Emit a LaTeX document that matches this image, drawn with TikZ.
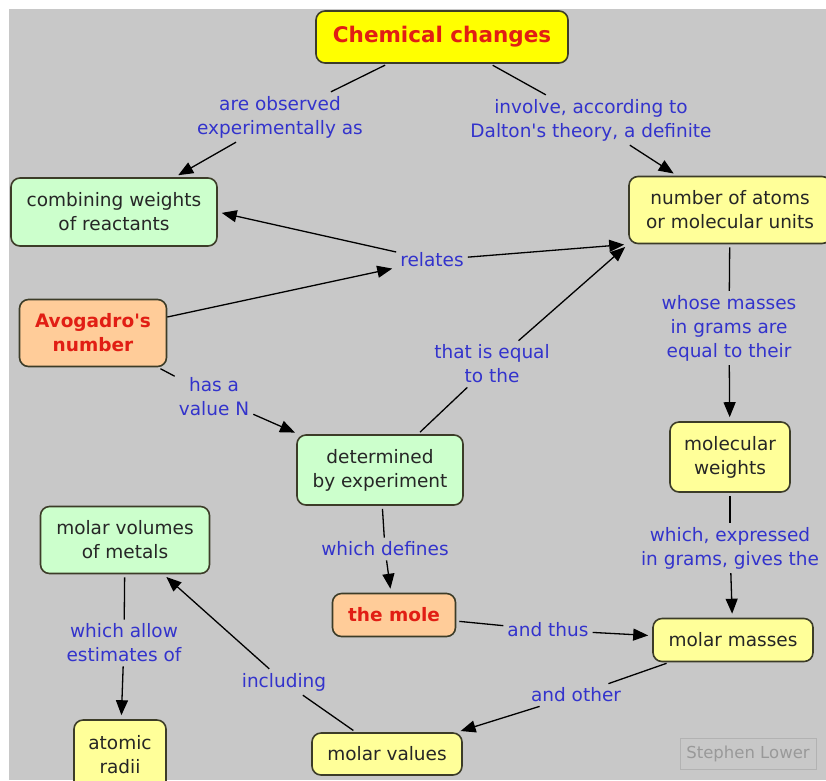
\documentclass[tikz,border=0pt]{standalone}
\usepackage{fontspec}
\setmainfont{DejaVu Sans}
\usepackage{tikz}
\usetikzlibrary{arrows.meta}

\definecolor{mapgray}{RGB}{200,200,200}
\definecolor{linkblue}{RGB}{51,51,204}
\definecolor{keyred}{RGB}{225,30,20}
\definecolor{chemyellow}{RGB}{255,255,0}
\definecolor{paleyellow}{RGB}{255,255,153}
\definecolor{palegreen}{RGB}{204,255,204}
\definecolor{paleorange}{RGB}{255,204,153}
\definecolor{boxline}{RGB}{60,60,40}

\begin{document}
\begin{tikzpicture}[x=1pt, y=-1pt,
        box/.style={draw=boxline, line width=1.6pt, rounded corners=9pt, align=center, inner sep=0pt,
            text=black!85, font=\fontsize{18.5}{24}\selectfont},
        keybox/.style={box, text=keyred, font=\fontsize{18.5}{24}\selectfont\bfseries},
        lbl/.style={align=center, inner sep=4pt, text=linkblue, font=\fontsize{18.5}{24}\selectfont},
        link/.style={line width=1.3pt, shorten <=3pt},
        arrow/.style={-{Triangle[length=15pt, width=12pt]}, line width=1.3pt, shorten >=4pt}
    ]
\useasboundingbox (0,0) rectangle (826,780);
        \clip (0,0) rectangle (826,780);
        \fill[white] (0,0) rectangle (826,780);
        \fill[mapgray] (9,9) rectangle (826,780);

        \node[keybox, fill=chemyellow, minimum width=252, minimum height=52, font=\fontsize{21.5}{24}\selectfont\bfseries] (chem) at (442,37) {Chemical changes};
        \node[box, fill=palegreen, minimum width=206, minimum height=68] (combining) at (114,212) {combining weights\\of reactants};
        \node[box, fill=paleyellow, minimum width=202, minimum height=67] (atoms) at (730,210) {number of atoms\\or molecular units};
        \node[keybox, fill=paleorange, minimum width=147, minimum height=67] (avogadro) at (93,333) {Avogadro\textquotesingle s\\number};
        \node[box, fill=palegreen, minimum width=166, minimum height=70] (determined) at (380,470) {determined\\by experiment};
        \node[box, fill=paleyellow, minimum width=120, minimum height=70] (molweights) at (730,457) {molecular\\weights};
        \node[box, fill=palegreen, minimum width=169, minimum height=67] (volumes) at (125,540) {molar volumes\\of metals};
        \node[keybox, fill=paleorange, minimum width=123, minimum height=43] (mole) at (394,615) {the mole};
        \node[box, fill=paleyellow, minimum width=160, minimum height=43] (masses) at (733,640) {molar masses};
        \node[box, fill=paleyellow, minimum width=92, minimum height=70] (radii) at (120,755) {atomic\\radii};
        \node[box, fill=paleyellow, minimum width=150, minimum height=42] (values) at (387,754) {molar values};
        \node[draw=black!30, line width=1pt, text=black!40, font=\fontsize{16.5}{18}\selectfont, minimum width=136, minimum height=31] (author) at (748,754) {Stephen Lower};

        % linking phrases
        \node[lbl] (observed) at (280,117) {are observed\\experimentally as};
        \node[lbl] (involve) at (591,120) {involve, according to\\Dalton\textquotesingle s theory, a definite};
        \node[lbl] (relates) at (432,260) {relates};
        \node[lbl] (equal) at (492,364) {that is equal\\to the};
        \node[lbl] (whose) at (729,328) {whose masses\\in grams are\\equal to their};
        \node[lbl] (hasvalue) at (214,397) {has a\\value N};
        \node[lbl] (defines) at (385,549) {which defines};
        \node[lbl] (expressed) at (730,548) {which, expressed\\in grams, gives the};
        \node[lbl] (thus) at (548,630) {and thus};
        \node[lbl] (allow) at (124,643) {which allow\\estimates of};
        \node[lbl] (including) at (284,682) {including};
        \node[lbl] (other) at (576,695) {and other};

        \draw[link] (chem) -- (observed);
        \draw[arrow] (observed) -- (combining);
        \draw[link] (chem) -- (involve);
        \draw[arrow] (involve) -- (atoms);
        \draw[arrow] (avogadro) -- (relates);
        \draw[arrow] (relates) -- (combining.east);
        \draw[arrow] (relates) -- (atoms.south west);
        \draw[link] (avogadro) -- (hasvalue);
        \draw[arrow] (hasvalue) -- (determined);
        \draw[link] (determined) -- (equal);
        \draw[arrow] (equal) -- (atoms.south west);
        \draw[link] (atoms) -- (whose);
        \draw[arrow] (whose) -- (molweights);
        \draw[link] (molweights) -- (expressed);
        \draw[arrow] (expressed) -- (masses);
        \draw[link] (determined) -- (defines);
        \draw[arrow] (defines) -- (mole);
        \draw[link] (mole) -- (thus);
        \draw[arrow] (thus) -- (masses);
        \draw[link] (masses) -- (other);
        \draw[arrow] (other) -- (values);
        \draw[link] (values) -- (including);
        \draw[arrow] (including) -- (volumes);
        \draw[link] (volumes) -- (allow);
        \draw[arrow] (allow) -- (radii);

    \end{tikzpicture}
\end{document}
